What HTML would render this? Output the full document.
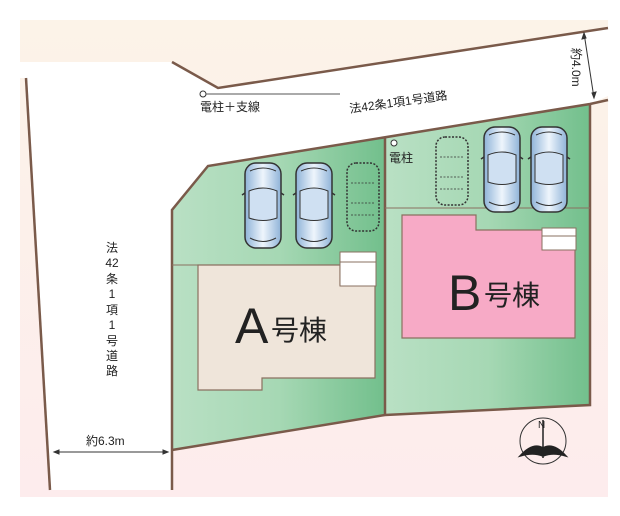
<!DOCTYPE html>
<html><head><meta charset="utf-8"><style>
html,body{margin:0;padding:0;background:#fff;}
svg{display:block;}
text{font-family:"Liberation Sans","Noto Sans CJK JP",sans-serif;fill:#222;}
</style></head><body>
<svg width="620" height="516" viewBox="0 0 620 516" xmlns="http://www.w3.org/2000/svg">
<defs>
<linearGradient id="bg" x1="0" y1="0" x2="0" y2="1">
<stop offset="0" stop-color="#fcf3e8"/><stop offset="1" stop-color="#fdeced"/></linearGradient>
<linearGradient id="gA" x1="0" y1="0" x2="1" y2="0">
<stop offset="0" stop-color="#b9e0c4"/><stop offset="0.5" stop-color="#a6d8b4"/><stop offset="1" stop-color="#72bf8c"/></linearGradient>
<linearGradient id="car" x1="0" y1="0" x2="1" y2="0">
<stop offset="0" stop-color="#8fb3d8"/><stop offset="0.5" stop-color="#eef5fc"/><stop offset="1" stop-color="#8fb3d8"/></linearGradient>
<g id="c">
<rect x="0" y="0" width="36" height="85" rx="11" fill="url(#car)" stroke="#333" stroke-width="1.5"/>
<path d="M4 28 Q18 22 32 28 L32 55 Q18 60 4 55Z" fill="#cfe0f2" stroke="#333" stroke-width="1"/>
<path d="M5 8 Q18 2 31 8 M5 75 Q18 82 31 75" fill="none" stroke="#333" stroke-width="1"/>
<path d="M0 30 l-3 2 M36 30 l3 2" stroke="#333" stroke-width="1.5"/>
</g>
<g id="d">
<rect x="0" y="0" width="32" height="68" rx="9" fill="none" stroke="#333" stroke-width="1.5" stroke-dasharray="2 1.5"/>
<path d="M4 20 H28 M4 40 H28 M4 52 H28" fill="none" stroke="#333" stroke-width="0.8" stroke-dasharray="2 1.5"/>
</g>
</defs>
<rect x="20" y="20" width="588" height="477" fill="url(#bg)"/>
<!-- roads white -->
<polygon points="20,62 172,62 218,88 608,28 608,96 590,104 208,166 172,210 172,490 50,490 26,78 20,78" fill="#fff"/>
<!-- lots -->
<polygon points="172,210 208,166 385,137 385,415 172,450" fill="url(#gA)"/>
<polygon points="385,137 590,104 590,405 385,415" fill="url(#gA)"/>
<!-- boundary lines -->
<g stroke="#7a5a4a" stroke-width="2.5" fill="none">
<polyline points="172,62 218,88 608,28"/>
<polyline points="172,490 172,210 208,166 590,104 608,100"/>
<line x1="26" y1="78" x2="50" y2="490"/>
<line x1="385" y1="137" x2="385" y2="415"/>
<polyline points="590,104 590,405 385,415 172,450"/>
</g>
<g stroke="#8a7060" stroke-width="1" fill="none">
<line x1="172" y1="265" x2="345" y2="265"/>
<line x1="385" y1="208" x2="590" y2="208"/>
</g>
<!-- houses -->
<polygon points="198,265 340,265 340,285 375,285 375,378 262,378 262,390 198,390" fill="#efe5da" stroke="#8a7060" stroke-width="1.2"/>
<rect x="340" y="252" width="36" height="34" fill="#fff" stroke="#8a7060" stroke-width="1"/>
<line x1="340" y1="262" x2="376" y2="262" stroke="#8a7060"/>
<polygon points="402,215 476,215 476,230 575,230 575,338 402,338" fill="#f7aac6" stroke="#8a7060" stroke-width="1.2"/>
<rect x="542" y="228" width="34" height="22" fill="#fff" stroke="#8a7060" stroke-width="1"/>
<line x1="542" y1="236" x2="576" y2="236" stroke="#8a7060"/>
<text x="235" y="343" font-size="50">A</text><text x="271" y="340" font-size="28">号棟</text>
<text x="448" y="310" font-size="50">B</text><text x="484" y="305" font-size="28">号棟</text>
<!-- cars -->
<use href="#c" x="245" y="163"/><use href="#c" x="296" y="163"/><use href="#d" x="347" y="163"/>
<use href="#d" x="436" y="137"/><use href="#c" x="484" y="127"/><use href="#c" x="531" y="127"/>
<!-- poles -->
<circle cx="203" cy="94" r="3" fill="#fff" stroke="#333"/>
<line x1="206" y1="94" x2="340" y2="94" stroke="#555"/>
<text x="200" y="111" font-size="12">電柱＋支線</text>
<circle cx="394" cy="143" r="3" fill="#fff" stroke="#333"/>
<text x="389" y="162" font-size="12">電柱</text>
<text x="350" y="113" font-size="12" transform="rotate(-8 350 113)">法42条1項1号道路</text>
<!-- dimensions -->
<g stroke="#333" stroke-width="1" fill="#333">
<line x1="584" y1="33" x2="594" y2="98"/>
<path d="M584 33 l-2 6 4 -1z M594 98 l2 -6 -4 1z"/>
<line x1="53" y1="490" x2="53" y2="490"/>
<line x1="54" y1="452" x2="168" y2="452"/>
<path d="M54 452 l5 -2 v4z M168 452 l-5 -2 v4z"/>
</g>
<text x="572" y="48" font-size="12" transform="rotate(90 572 48)">約4.0m</text>
<text x="86" y="445" font-size="12">約6.3m</text>
<g font-size="12" text-anchor="middle">
<text x="112" y="252">法</text><text x="112" y="267">42</text><text x="112" y="283">条</text>
<text x="112" y="298">1</text><text x="112" y="314">項</text><text x="112" y="329">1</text>
<text x="112" y="345">号</text><text x="112" y="360">道</text><text x="112" y="375">路</text>
</g>
<!-- compass -->
<circle cx="543" cy="441" r="23" fill="none" stroke="#333" stroke-width="1"/>
<text x="538" y="428" font-size="10">N</text>
<path d="M543 420 V458 M520 456 Q533 442 543 448 Q553 442 566 456 Q553 452 543 456 Q533 452 520 456Z" stroke="#222" fill="#222" stroke-width="1.5"/>
</svg>
</body></html>
